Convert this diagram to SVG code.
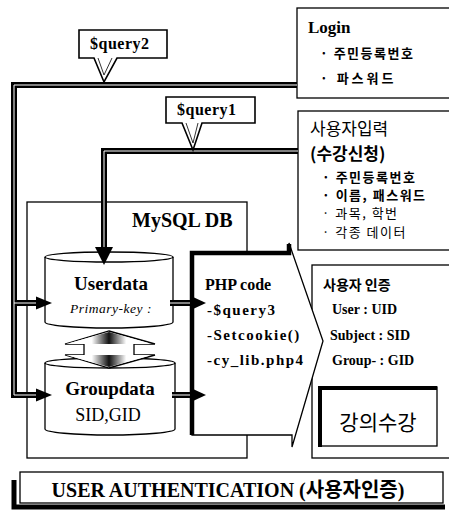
<svg xmlns="http://www.w3.org/2000/svg" width="449" height="516" viewBox="0 0 449 516">
<defs>
<style>
.box{fill:#fff;stroke:#000;stroke-width:1.3}
.en{font-family:"Liberation Serif","Noto Sans CJK KR",serif;font-weight:bold;fill:#000}
.ko{font-family:"Noto Sans CJK KR","Noto Sans",sans-serif;fill:#000}
.wire{fill:none;stroke:#000;stroke-width:6}
.wire-in{fill:none;stroke:#fff;stroke-width:1}
.head{fill:#000}
.call{fill:#fff;stroke:#000;stroke-width:1.6}
.callin{fill:none;stroke:#000;stroke-width:0.8}
</style>
<linearGradient id="hg" x1="0" x2="1" y1="0" y2="0">
<stop offset="0" stop-color="#fff"/>
<stop offset="0.3" stop-color="#fff"/>
<stop offset="0.5" stop-color="#111"/>
<stop offset="0.7" stop-color="#fff"/>
<stop offset="1" stop-color="#fff"/>
</linearGradient>
<path id="ahR" d="M0,0 L-16,-6.5 L-16,6.5 Z"/>
<path id="ahS" d="M0,0 L-13,-6 L-13,6 Z"/>
</defs>

<g id="login">
<rect class="box" x="297" y="8" width="170" height="90"/>
<text class="en" x="308" y="33" font-size="17">Login</text>
<text class="ko" x="320" y="58" font-size="13" font-weight="bold" letter-spacing="1.5">· 주민등록번호</text>
<text class="ko" x="320" y="83" font-size="13" font-weight="bold" letter-spacing="3">· 파스워드</text>
</g>

<g id="user-input">
<rect class="box" x="298" y="111" width="170" height="139"/>
<text class="ko" x="310" y="135" font-size="17">사용자입력</text>
<text class="ko" x="310" y="160" font-size="17" font-weight="bold">(수강신청)</text>
<text class="ko" x="322" y="182" font-size="13" font-weight="bold" letter-spacing="1.5">· 주민등록번호</text>
<text class="ko" x="322" y="200" font-size="13" font-weight="bold" letter-spacing="1.5">· 이름, 패스워드</text>
<text class="ko" x="322" y="218" font-size="13" letter-spacing="1.5">· 과목, 학번</text>
<text class="ko" x="322" y="237" font-size="13" letter-spacing="1.5">· 각종 데이터</text>
</g>

<g id="mysql-db">
<rect class="box" x="27" y="202" width="220" height="256"/>
<text class="en" x="132" y="227" font-size="20">MySQL DB</text>
</g>

<g id="auth">
<rect class="box" x="312" y="265" width="160" height="193"/>
<text class="ko" x="323" y="290" font-size="14" font-weight="bold">사용자 인증</text>
<text class="en" x="332" y="314" font-size="14">User : UID</text>
<text class="en" x="330" y="340" font-size="14">Subject : SID</text>
<text class="en" x="332" y="365" font-size="14">Group- : GID</text>
</g>

<g id="lecture">
<rect class="box" x="319" y="387" width="118" height="59"/>
<path d="M320,447 V388 H437" fill="none" stroke="#000" stroke-width="4"/>
<text class="ko" x="378" y="430" font-size="21" text-anchor="middle">강의수강</text>
</g>

<g id="php-code">
<path class="box" d="M192,253 H289 V243 L323,341 L292,447 V435 H192 Z"/>
<path d="M192,435 V253 H289 V244" fill="none" stroke="#000" stroke-width="4.5"/>
<text class="en" x="205" y="290" font-size="16">PHP code</text>
<text class="en" x="207" y="315" font-size="15" letter-spacing="1.5">-$query3</text>
<text class="en" x="207" y="340" font-size="15" letter-spacing="1.5">-Setcookie()</text>
<text class="en" x="207" y="365" font-size="15" letter-spacing="1.5">-cy_lib.php4</text>
</g>

<g id="userdata">
<path class="box" d="M45,257 A64,5 0 0 1 173,257 L173,322 A64,6 0 0 1 45,322 Z"/>
<path d="M45,257 A64,5 0 0 0 173,257" fill="none" stroke="#000" stroke-width="1.3"/>
<text class="en" x="111" y="290" font-size="19" text-anchor="middle">Userdata</text>
<text x="111" y="313" font-size="13.5" font-style="italic" letter-spacing="0.5" text-anchor="middle" font-family="Liberation Serif, serif">Primary-key :</text>
</g>

<g id="groupdata">
<path class="box" d="M45,363 A65,5 0 0 1 175,363 L175,429 A65,6 0 0 1 45,429 Z"/>
<path d="M45,363 A65,5 0 0 0 175,363" fill="none" stroke="#000" stroke-width="1.3"/>
<text class="en" x="110" y="395" font-size="19" text-anchor="middle">Groupdata</text>
<text x="108" y="421" font-size="18" text-anchor="middle" font-family="Liberation Serif, serif">SID,GID</text>
</g>

<g id="sync-arrow">
<path class="box" d="M109,331 L155,344 L134,344 L134,355 L155,355 L109,368 L65,355 L84,355 L84,344 L65,344 Z"/>
<path d="M109,332 L152,344 L66,344 Z" fill="url(#hg)"/>
<path d="M109,367 L152,355 L66,355 Z" fill="url(#hg)"/>
</g>

<g id="connectors">
<path class="wire" d="M297,85 H14 V395 H38 M14,303 H38"/>
<path class="wire-in" d="M297,85 H14 V395 H38 M14,303 H38"/>
<use href="#ahR" class="head" x="52" y="303"/>
<use href="#ahR" class="head" x="52" y="395"/>
<path class="wire" d="M298,151 H104 V250"/>
<path class="wire-in" d="M298,151 H104 V248"/>
<path class="head" d="M104,265 L95,247 L113,247 Z"/>
<path class="wire" d="M170,303 H194 M172,395 H194"/>
<path class="wire-in" d="M170,303 H190 M172,395 H190"/>
<use href="#ahS" class="head" x="206" y="303"/>
<use href="#ahS" class="head" x="206" y="395"/>
</g>

<g id="query2">
<path class="call" d="M79,30 H167 V58 H117 L104,82 L94,58 H79 Z"/>
<path class="callin" d="M98,58 L104,75 L112,58"/>
<text class="en" x="90" y="49" font-size="16" letter-spacing="0.5">$query2</text>
</g>

<g id="query1">
<path class="call" d="M166,97 H255 V123 H202 L193,150 L182,123 H166 Z"/>
<path class="callin" d="M186,123 L193,143 L198,123"/>
<text class="en" x="177" y="115" font-size="16" letter-spacing="0.5">$query1</text>
</g>

<g id="title">
<path d="M14,480 V507 H445" fill="none" stroke="#000" stroke-width="5"/>
<rect class="box" x="20" y="472" width="423" height="31"/>
<text class="en" x="228" y="497" font-size="20" text-anchor="middle">USER AUTHENTICATION (사용자인증)</text>
</g>
</svg>
